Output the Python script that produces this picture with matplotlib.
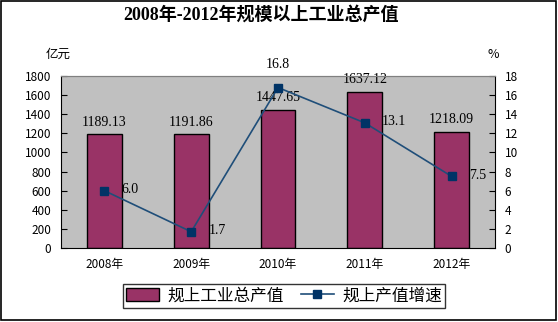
import matplotlib
matplotlib.use("Agg")
import matplotlib.pyplot as plt
from matplotlib.patches import Rectangle

plt.rcParams['font.family'] = ['Noto Sans CJK SC', 'DejaVu Sans']

# 数据
years = ["2008年", "2009年", "2010年", "2011年", "2012年"]
output_value = [1189.13, 1191.86, 1447.65, 1637.12, 1218.09]   # 亿元
growth_rate = [6.0, 1.7, 16.8, 13.1, 7.5]                       # %

BAR_COLOR = "#993366"
LINE_COLOR = "#1F4E79"
BG_GRAY = "#C0C0C0"
SERIF = ['Liberation Serif', 'Noto Sans CJK SC']

fig = plt.figure(figsize=(5.58, 3.22), dpi=100, facecolor="white")

# 外框
fig.patches.append(Rectangle((0.002, 0.006), 0.995, 0.99, transform=fig.transFigure,
                             fill=False, edgecolor="black", lw=1.2))

ax = fig.add_axes([0.1093, 0.2298, 0.7778, 0.534])
ax.set_facecolor(BG_GRAY)
x = list(range(len(years)))
bars = ax.bar(x, output_value, width=0.4, color=BAR_COLOR, edgecolor="black",
              lw=1.0, label="规上工业总产值", zorder=2)
ax.set_xlim(-0.5, len(years) - 0.5)
ax.set_ylim(0, 1800)
ax.set_yticks(range(0, 1801, 200))
ax.set_xticks(x)
ax.set_xticklabels(years)
ax.tick_params(axis="y", direction="in", length=4, labelsize=8.5, pad=7)
ax.tick_params(axis="x", length=0, labelsize=8.5, pad=7)
for s in ["left", "bottom"]:
    ax.spines[s].set_color("black")
ax.spines["top"].set_color("#808080")
ax.spines["right"].set_visible(False)

for xi, v in zip(x, output_value):
    ax.text(xi, v + 55, f"{v:.2f}", ha="center", va="bottom", fontsize=10,
            family=SERIF)

ax2 = ax.twinx()
ax2.plot(x, growth_rate, color=LINE_COLOR, lw=1.2, marker="s", markersize=6,
         markerfacecolor="#003366", markeredgecolor="#003366",
         label="规上产值增速", zorder=3)
ax2.set_ylim(0, 18)
ax2.set_yticks(range(0, 19, 2))
ax2.tick_params(axis="y", direction="in", length=4, labelsize=8.5, pad=7)
ax2.spines["right"].set_color("black")
ax2.spines["top"].set_color("#808080")
ax2.spines["left"].set_visible(False)
ax2.spines["bottom"].set_visible(False)

for xi, v in zip(x, growth_rate):
    if v == max(growth_rate):
        ax2.text(xi, v + 1.7, f"{v:.1f}", ha="center", va="bottom", fontsize=10,
                 family=SERIF)
    else:
        ax2.text(xi + 0.2, v + 0.1, f"{v:.1f}", ha="left", va="center",
                 fontsize=10, family=SERIF)

fig.text(0.468, 0.953, "2008年-2012年规模以上工业总产值", ha="center", va="center",
         fontsize=13, fontweight="bold", family=SERIF)
fig.text(0.104, 0.83, "亿元", ha="center", va="center", fontsize=9)
fig.text(0.884, 0.83, "%", ha="center", va="center", fontsize=9)

h1, l1 = ax.get_legend_handles_labels()
h2, l2 = ax2.get_legend_handles_labels()
leg = fig.legend(h1 + h2, l1 + l2, loc="center", bbox_to_anchor=(0.509, 0.081),
                 ncol=2, fontsize=12, frameon=True, fancybox=False,
                 edgecolor="black", handlelength=2.0, handleheight=0.8,
                 handletextpad=0.5, columnspacing=1.0, borderpad=0.2,
                 borderaxespad=0.3)
leg.get_frame().set_linewidth(1.0)

fig.savefig("out.png", dpi=100, facecolor="white")
